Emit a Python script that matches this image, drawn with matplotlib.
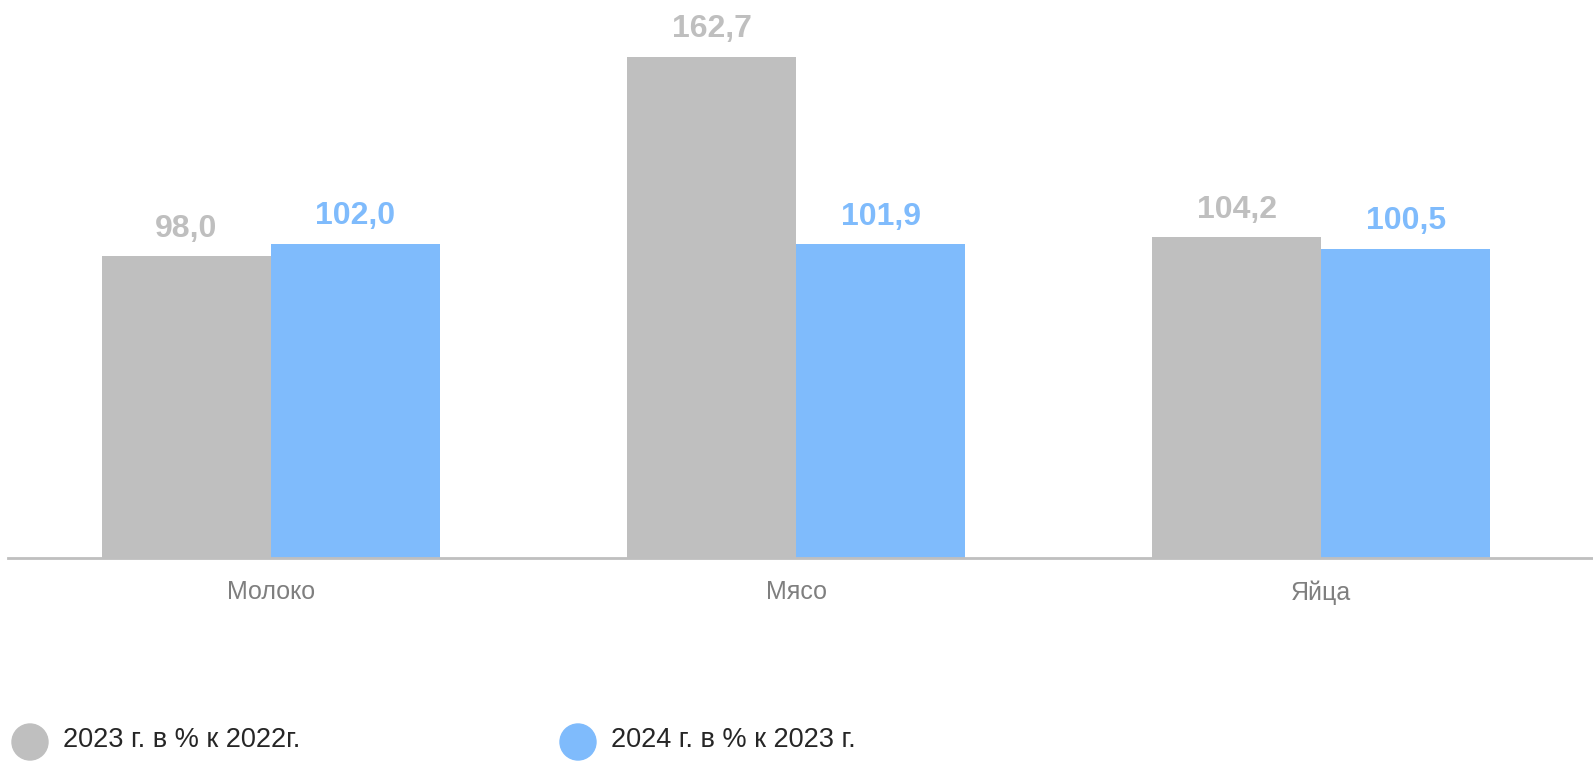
import numpy as np
import matplotlib.pyplot as plt
from matplotlib.patches import Circle

plt.rcParams['font.family'] = ['Liberation Sans', 'DejaVu Sans']

categories = ['Молоко', 'Мясо', 'Яйца']
series_names = ['2023 г. в % к 2022г.', '2024 г. в % к 2023 г.']
values_2023 = [98.0, 162.7, 104.2]
values_2024 = [102.0, 101.9, 100.5]

gray = '#bfbfbf'
blue = '#7fbbfc'

fig = plt.figure(figsize=(15.93, 7.61), dpi=100)
ax = fig.add_axes([8 / 1593, 203 / 761, 1 - 8 / 1593, 558 / 761])

x = np.arange(len(categories))
w = 0.322
b1 = ax.bar(x - w / 2, values_2023, w, color=gray)
b2 = ax.bar(x + w / 2, values_2024, w, color=blue)

def fmt(v):
    return ('%.1f' % v).replace('.', ',')

ax.bar_label(b1, labels=[fmt(v) for v in values_2023], padding=9,
             color=gray, fontsize=23, fontweight='bold')
ax.bar_label(b2, labels=[fmt(v) for v in values_2024], padding=9,
             color=blue, fontsize=23, fontweight='bold')

ax.set_xlim(-0.501, 2.518)
ax.set_ylim(0, 181.2)
ax.set_xticks(x)
ax.set_xticklabels(categories, fontsize=18, color='#7f7f7f')
ax.tick_params(axis='x', length=0, pad=16)
ax.set_yticks([])
for s in ['top', 'right', 'left']:
    ax.spines[s].set_visible(False)
ax.spines['bottom'].set_color(gray)
ax.spines['bottom'].set_linewidth(2)

# legend drawn by hand
leg_x = [0.30, 5.78]
for i, name in enumerate(series_names):
    c = Circle((leg_x[i], 0.19), 0.18, transform=fig.dpi_scale_trans,
               color=[gray, blue][i], clip_on=False)
    fig.add_artist(c)
    fig.text((leg_x[i] + 0.33) / 15.93, 0.21 / 7.61, name, fontsize=19.5,
             color='#262626', va='center', ha='left')

fig.savefig('out.png', dpi=100)
